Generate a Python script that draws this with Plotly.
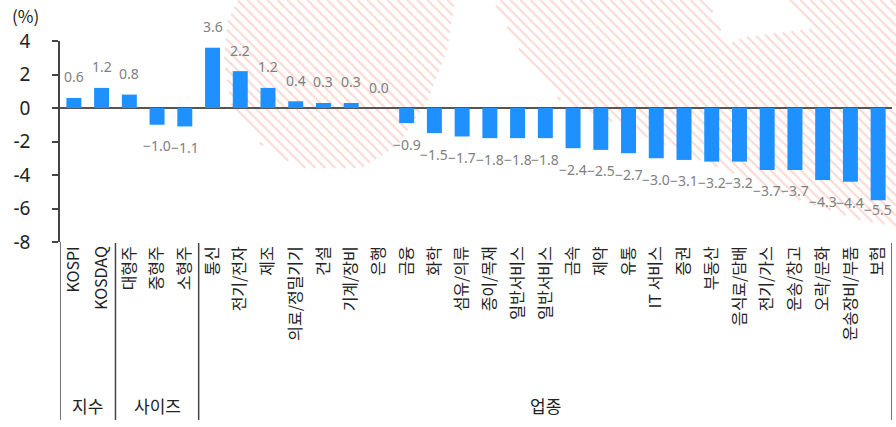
import plotly.graph_objects as go

# ---------------- data ----------------
categories = ["KOSPI", "KOSDAQ", "대형주", "중형주", "소형주", "통신", "전기/전자", "제조",
              "의료/정밀기기", "건설", "기계/장비", "은행", "금융", "화학", "섬유/의류",
              "종이/목재", "일반서비스", "일반서비스", "금속", "제약", "유통", "IT 서비스",
              "증권", "부동산", "음식료/담배", "전기/가스", "운송/창고", "오락/문화",
              "운송장비/부품", "보험"]
values = [0.6, 1.2, 0.8, -1.0, -1.1, 3.6, 2.2, 1.2, 0.4, 0.3, 0.3, 0.0, -0.9, -1.5, -1.7,
          -1.8, -1.8, -1.8, -2.4, -2.5, -2.7, -3.0, -3.1, -3.2, -3.2, -3.7, -3.7, -4.3,
          -4.4, -5.5]
group_names = ["지수", "사이즈", "업종"]
group_sizes = [2, 3, 25]
y_ticks = [-8, -6, -4, -2, 0, 2, 4]
y_unit = "(%)"

W, H = 896, 427
FONT = "Noto Sans CJK KR"
positions = list(range(len(categories)))

fig = go.Figure()

# ---------------- background watermark (decorative hatch, pixel coords) ----------------
deco_polys = [
    [(238, 0), (455, 0), (447, 50), (428, 100), (398, 145), (362, 168), (300, 168),
     (262, 145), (232, 110), (224, 60), (228, 20)],
    [(493, 0), (707, 0), (727, 44), (745, 37), (817, 28), (787, 0), (896, 0),
     (896, 226), (860, 220), (800, 200), (700, 160), (620, 125), (560, 100), (525, 60)],
]
HATCH_STEP = 10


def hatch_segments(poly, step):
    """Diagonal '\\' lines (x - y = c) clipped to a polygon."""
    xs_out, ys_out = [], []
    cmin = min(x - y for x, y in poly)
    cmax = max(x - y for x, y in poly)
    c = cmin + 0.37
    n = len(poly)
    while c < cmax:
        ts = []
        for i in range(n):
            x1, y1 = poly[i]
            x2, y2 = poly[(i + 1) % n]
            f1 = x1 - y1 - c
            f2 = x2 - y2 - c
            if (f1 < 0) != (f2 < 0):
                t = y1 + (y2 - y1) * f1 / (f1 - f2)
                ts.append(t)
        ts.sort()
        for j in range(0, len(ts) - 1, 2):
            ya, yb = ts[j], ts[j + 1]
            xs_out += [c + ya, c + yb, None]
            ys_out += [ya, yb, None]
        c += step
    return xs_out, ys_out


hx, hy = [], []
for poly in deco_polys:
    sx, sy = hatch_segments(poly, HATCH_STEP)
    hx += sx
    hy += sy
fig.add_trace(go.Scatter(
    x=hx, y=hy, mode="lines", line=dict(color="#fcdcd7", width=2.2),
    hoverinfo="skip", showlegend=False, xaxis="x", yaxis="y", connectgaps=False))

# ---------------- bars ----------------
fig.add_trace(go.Bar(
    x=positions, y=values, width=0.54, marker=dict(color="#1E90FF", line=dict(width=0)),
    xaxis="x2", yaxis="y2", showlegend=False, hoverinfo="skip"))

# plot area in pixels
left_px, right_px, top_px, bottom_px = 60, 892, 41, 242
y_min, y_max = -8, 4
ppu = (bottom_px - top_px) / (y_max - y_min)  # pixels per unit
LABEL_GAP = 21
label_floor = -6.03  # labels kept inside the plot area near the bottom

# data labels
annotations = []
for p, v in zip(positions, values):
    txt = f"{v:.1f}".replace("-", "−")
    if v >= 0:
        shift = LABEL_GAP
    else:
        shift = -min(LABEL_GAP, (v - label_floor) * ppu)
    annotations.append(dict(
        x=p, y=v, xref="x2", yref="y2", text=txt, showarrow=False,
        yanchor="middle", xanchor="center", yshift=shift,
        font=dict(size=14, color="#808080", family="Noto Sans")))

x_dom = [left_px / W, right_px / W]
y_dom = [1 - bottom_px / H, 1 - top_px / H]


def py(p):
    return 1 - p / H


# group labels and separators
shapes = []
start = 0
for name, n in zip(group_names, group_sizes):
    center = start + (n - 1) / 2
    annotations.append(dict(x=center, y=py(405), xref="x2", yref="paper", text=name,
                            showarrow=False, yanchor="middle",
                            font=dict(size=17, color="#222", family=FONT)))
    end = start + n - 0.5
    shapes.append(dict(type="line", xref="x2", yref="paper", x0=end, x1=end,
                       y0=py(243), y1=py(420), line=dict(color="#444", width=1.5)))
    start += n
# y axis extension below plot
shapes.append(dict(type="line", xref="x2", yref="paper", x0=-0.5, x1=-0.5,
                   y0=py(242), y1=py(420), line=dict(color="#444", width=1.5)))

annotations.append(dict(x=10 / W, y=py(15), xref="paper", yref="paper", text=y_unit,
                        showarrow=False, xanchor="left", yanchor="middle",
                        font=dict(size=17, color="#222", family=FONT)))

fig.update_layout(
    width=W, height=H, autosize=False,
    margin=dict(l=0, r=0, t=0, b=0, pad=0, autoexpand=False),
    paper_bgcolor="white", plot_bgcolor="rgba(0,0,0,0)",
    xaxis=dict(domain=[0, 1], range=[0, W], visible=False, fixedrange=True,
               automargin=False),
    yaxis=dict(domain=[0, 1], range=[H, 0], visible=False, fixedrange=True,
               automargin=False),
    xaxis2=dict(domain=x_dom, anchor="y2", range=[-0.5, len(categories) - 0.5],
                tickmode="array", tickvals=positions, ticktext=categories,
                tickangle=-90, ticks="", showline=False, showgrid=False, zeroline=False,
                automargin=False,
                tickfont=dict(size=16, color="#222", family=FONT)),
    yaxis2=dict(domain=y_dom, anchor="x2", range=[y_min, y_max], tickmode="array",
                tickvals=y_ticks, ticktext=[str(t) for t in y_ticks],
                ticks="outside", ticklen=6, tickcolor="#444", tickwidth=1.5,
                showline=True, linecolor="#444", linewidth=1.5,
                zeroline=True, zerolinecolor="#555", zerolinewidth=1.5,
                showgrid=False, ticklabelstandoff=18, automargin=False,
                tickfont=dict(size=19, color="#222", family="Noto Sans")),
    annotations=annotations, shapes=shapes,
)

fig.write_html("out.html")
